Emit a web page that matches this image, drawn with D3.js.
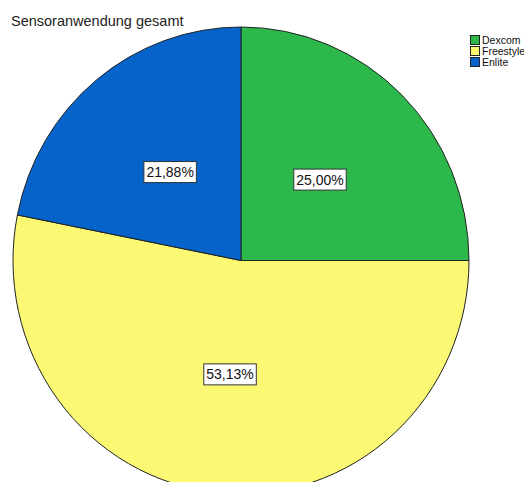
<!DOCTYPE html>
<html>
<head>
<meta charset="utf-8">
<script src="https://cdn.jsdelivr.net/npm/d3@7"></script>
<style>
  html, body { margin: 0; padding: 0; background: #fff; }
  svg { display: block; }
</style>
</head>
<body>
<svg id="chart" width="524" height="482"></svg>
<script>
// Sensor usage counts per product
const categories = ["Dexcom", "Freestyle", "Enlite"];
const counts = [8, 17, 7];
const percentLabels = ["25,00%", "53,13%", "21,88%"];
const colors = ["#2db84b", "#fbf874", "#0563c9"];
const title = "Sensoranwendung gesamt";

const svg = d3.select("#chart");
const cx = 241, cy = 260.5, rx = 228, ry = 233.5;

svg.append("text")
  .attr("x", 11).attr("y", 26)
  .attr("font-family", "Liberation Sans, Arial, sans-serif")
  .attr("font-size", 14.5)
  .attr("fill", "#222")
  .text(title);

const pie = d3.pie().sort(null).value(d => d)(counts);
const arc = d3.arc().innerRadius(0).outerRadius(rx);

const g = svg.append("g")
  .attr("transform", `translate(${cx},${cy}) scale(1,${ry / rx})`);

g.selectAll("path.slice")
  .data(pie)
  .join("path")
  .attr("class", "slice")
  .attr("d", arc)
  .attr("fill", (d, i) => colors[i])
  .attr("stroke", "#222")
  .attr("stroke-width", 1)
  .attr("vector-effect", "non-scaling-stroke");

// Percentage labels inside boxed white tags
const labelArc = d3.arc().innerRadius(0).outerRadius(rx * 0.98);
const lg = svg.append("g");
pie.forEach((d, i) => {
  const [x, y0] = labelArc.centroid(d);
  const px = cx + x, py = cy + y0 * ry / rx;
  const t = lg.append("text")
    .attr("x", px).attr("y", py)
    .attr("text-anchor", "middle")
    .attr("dominant-baseline", "central")
    .attr("font-family", "Liberation Sans, Arial, sans-serif")
    .attr("font-size", 14)
    .attr("fill", "#111")
    .text(percentLabels[i]);
  const bb = t.node().getBBox();
  lg.insert("rect", "text")
    .attr("x", bb.x - 2.5).attr("y", py - 10.5)
    .attr("width", bb.width + 5).attr("height", 21)
    .attr("fill", "#fff")
    .attr("stroke", "#333")
    .attr("stroke-width", 1);
});

// Legend
const legend = svg.append("g").attr("transform", "translate(470,35)");
categories.forEach((c, i) => {
  const row = legend.append("g").attr("transform", `translate(0,${i * 11})`);
  row.append("rect")
    .attr("x", 0.5).attr("y", 0.5).attr("width", 9).attr("height", 9)
    .attr("fill", colors[i]).attr("stroke", "#222").attr("stroke-width", 1);
  row.append("text")
    .attr("x", 12).attr("y", 5)
    .attr("dominant-baseline", "central")
    .attr("font-family", "Liberation Sans, Arial, sans-serif")
    .attr("font-size", 10.5)
    .attr("fill", "#111")
    .text(c);
});
</script>
</body>
</html>
